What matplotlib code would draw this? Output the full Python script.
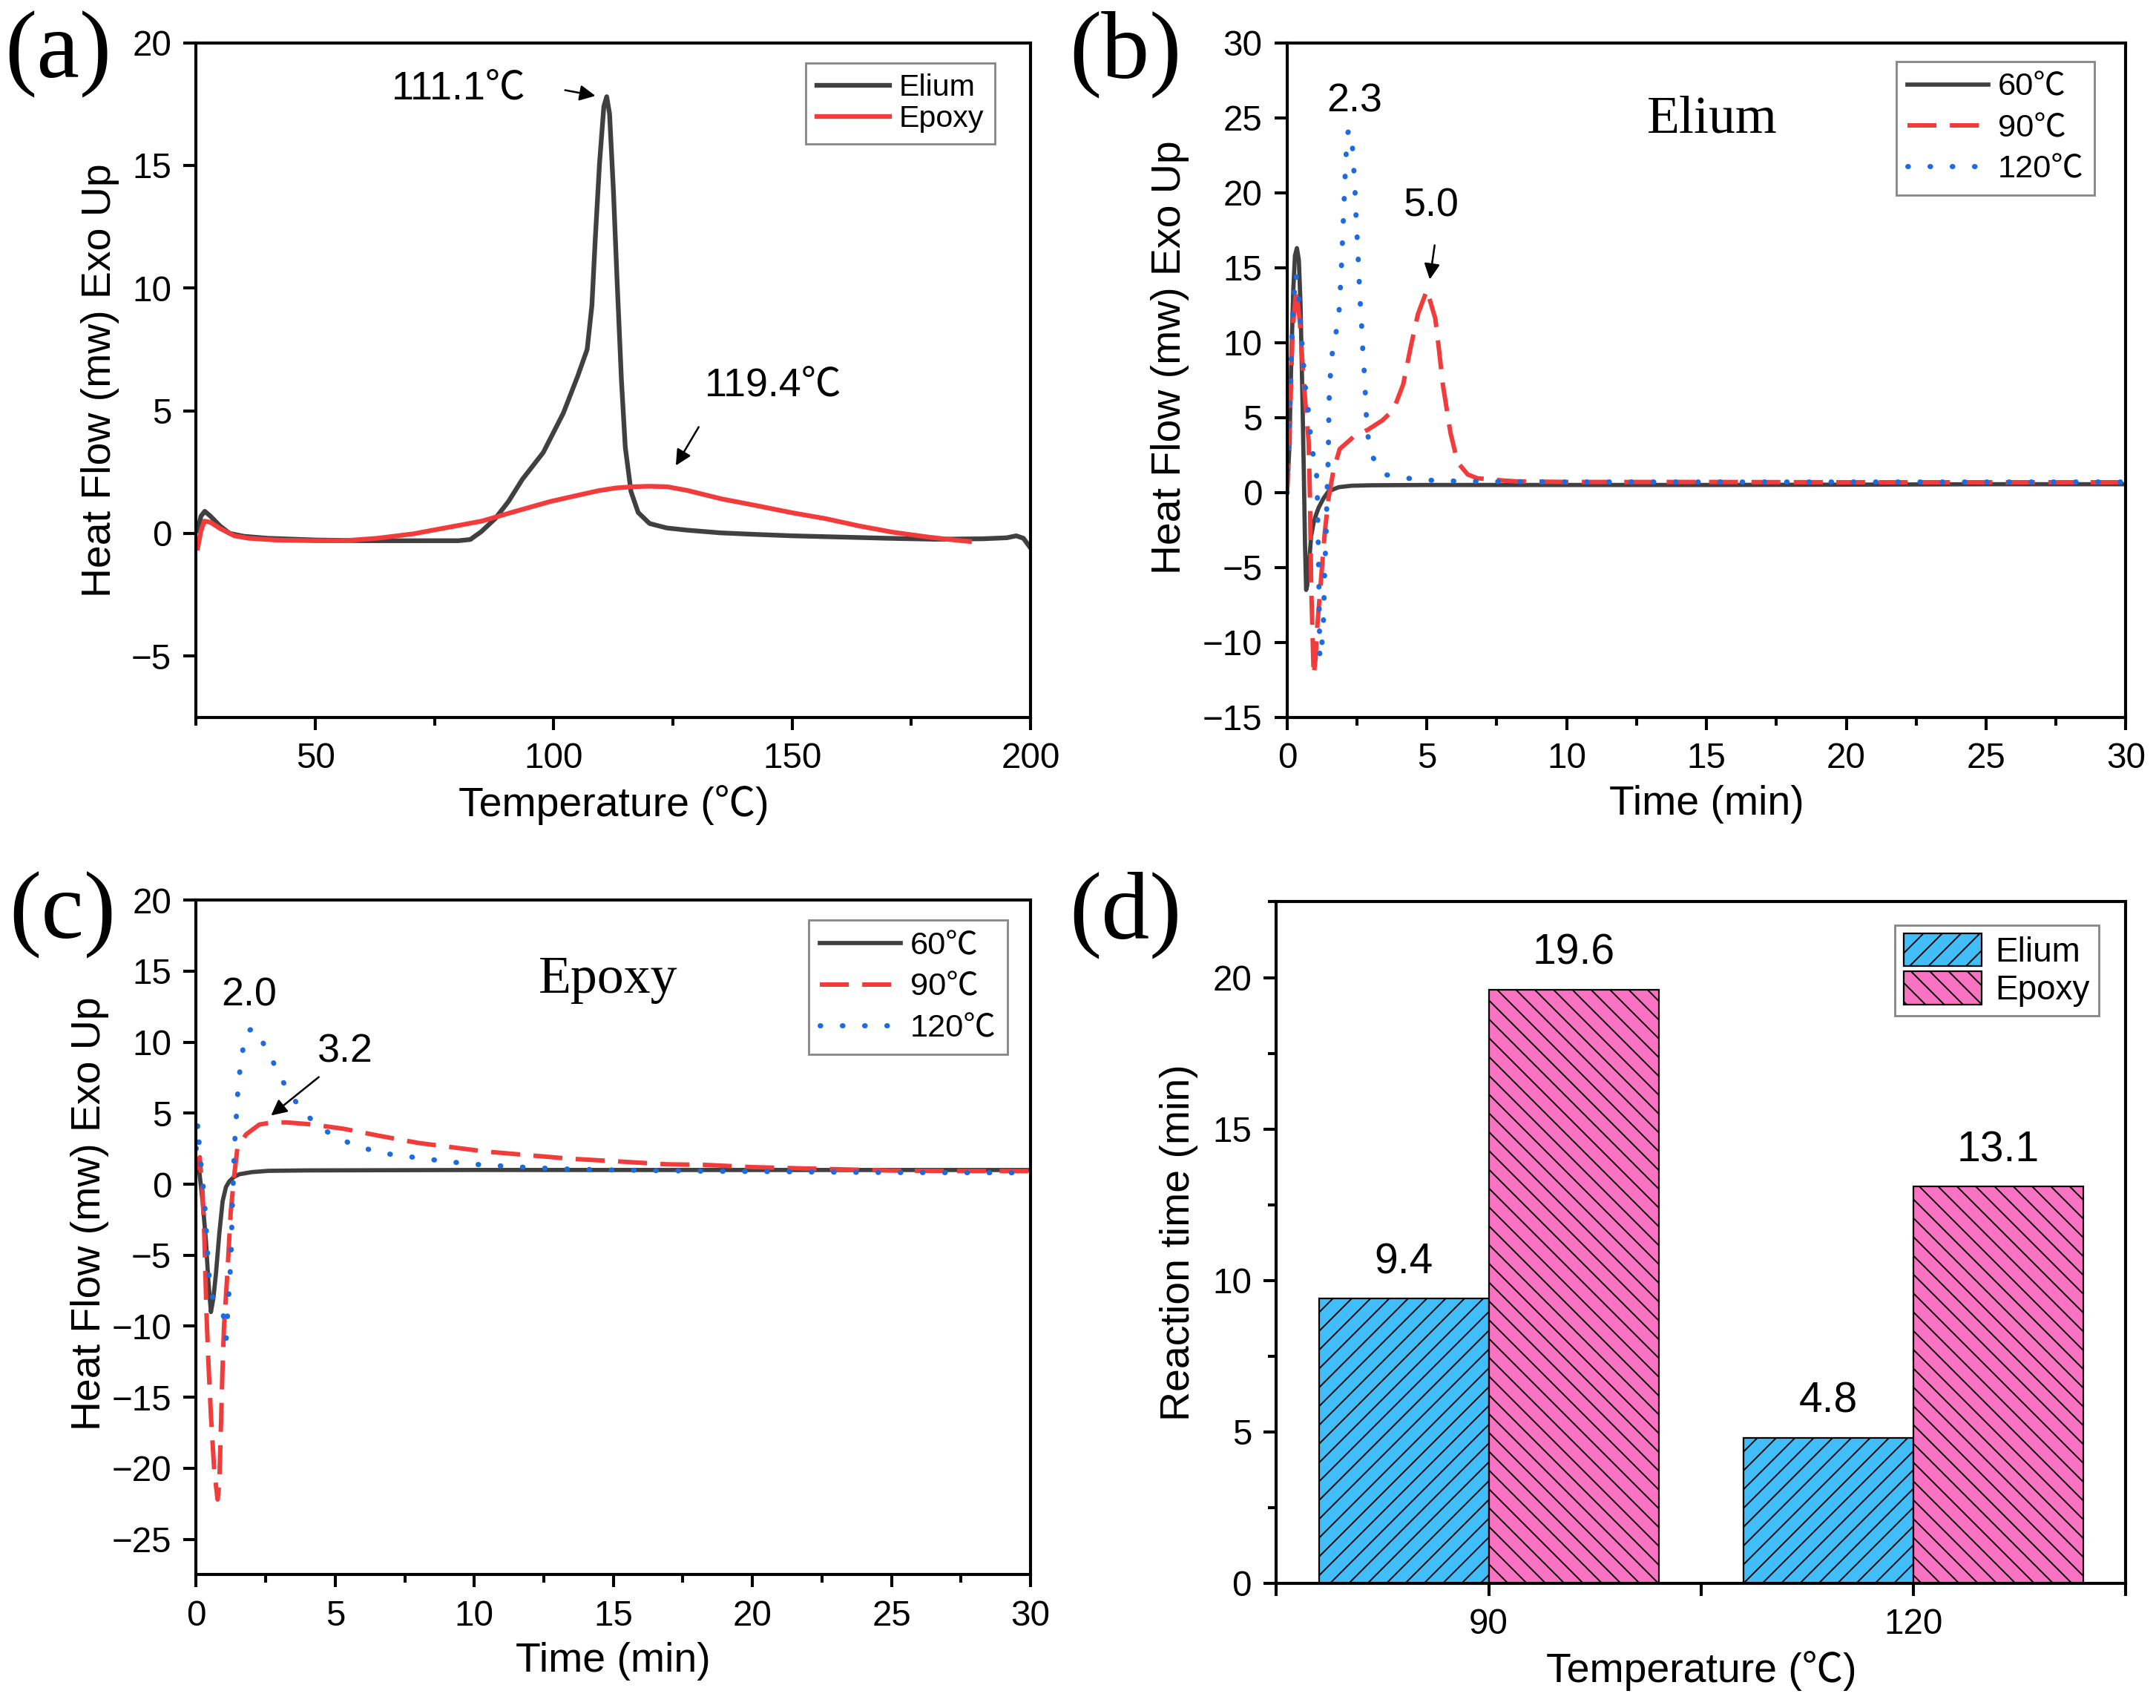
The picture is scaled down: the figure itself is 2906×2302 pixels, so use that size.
import matplotlib
matplotlib.use("Agg")
import matplotlib.pyplot as plt
from matplotlib.ticker import MultipleLocator, FixedLocator
import numpy as np

plt.rcParams['font.family'] = ['Liberation Sans', 'Noto Sans CJK SC', 'DejaVu Sans']
plt.rcParams['hatch.linewidth'] = 0.6
plt.rcParams['axes.unicode_minus'] = True

SERIF = ['Liberation Serif', 'DejaVu Serif']

# ---------------- data ----------------
# (a) non-isothermal DSC
temp_elium = [25.3, 26.0, 26.8, 28.0, 30.0, 32.0, 35.0, 40.0, 50.0, 60.0, 70.0, 80.0, 82.5, 84.8,
              87.7, 90.5, 93.4, 97.8, 102.0, 105.0, 107.0, 108.0, 108.7, 109.6, 110.5, 111.1,
              111.7, 112.5, 113.3, 114.2, 115.0, 116.2, 117.7, 120.1, 123.7, 128.0, 135.0, 142.0,
              150.0, 160.0, 170.0, 180.0, 190.0, 195.0, 197.0, 198.5, 200.0]
hf_elium = [0.1, 0.7, 0.9, 0.7, 0.3, 0.0, -0.12, -0.2, -0.27, -0.3, -0.3, -0.3, -0.25, 0.07,
            0.6, 1.3, 2.2, 3.3, 4.9, 6.4, 7.5, 9.3, 12.0, 15.1, 17.4, 17.8,
            17.1, 14.0, 10.2, 6.2, 3.5, 1.7, 0.85, 0.4, 0.22, 0.13, 0.02, -0.04,
            -0.1, -0.15, -0.2, -0.24, -0.22, -0.18, -0.1, -0.2, -0.6]
temp_epoxy = [25.3, 26.0, 26.7, 28.0, 30.0, 33.0, 36.0, 41.6, 50, 56, 63, 70.5, 78, 84.9, 92,
              99.3, 105, 109.4, 113, 116.6, 120, 123.8, 128, 135.3, 142, 149.7, 157, 164.1,
              171, 178.5, 183, 187.2]
hf_epoxy = [-0.6, 0.1, 0.5, 0.45, 0.2, -0.1, -0.2, -0.27, -0.3, -0.3, -0.2, -0.02, 0.25, 0.5, 0.9,
            1.3, 1.55, 1.74, 1.85, 1.9, 1.92, 1.9, 1.75, 1.4, 1.15, 0.85, 0.6, 0.3,
            0.05, -0.15, -0.25, -0.33]

# (b) Elium isothermal
tb_60 = [0, 0.08, 0.15, 0.22, 0.28, 0.35, 0.42, 0.48, 0.54, 0.6, 0.64, 0.68, 0.72, 0.78, 0.86,
         0.95, 1.05, 1.13, 1.3, 1.48, 1.84, 2.3, 3, 5, 10, 15, 20, 25, 30]
hb_60 = [0, 3, 8.9, 13.5, 15.8, 16.3, 15.5, 12.5, 7, 1, -3.5, -6.5, -6.2, -4.8, -2.9,
         -2.0, -1.4, -1.0, -0.4, 0.08, 0.35, 0.45, 0.48, 0.5, 0.5, 0.5, 0.52, 0.55, 0.55]
tb_90 = [0, 0.1, 0.2, 0.33, 0.45, 0.6, 0.77, 0.82, 0.86, 0.9, 0.95, 1.02, 1.08, 1.22, 1.35,
         1.48, 1.66, 1.88, 2.37, 2.9, 3.4, 3.8, 4.15, 4.42, 4.68, 5.0, 5.3, 5.44, 5.57, 5.84,
         6.1, 6.46, 6.8, 7.7, 8.2, 10, 15, 20, 25, 30]
hb_90 = [0, 5, 11, 13.5, 11.5, 7.2, 3.4, -0.7, -6.1, -8.9, -12.2, -11, -8.9, -5.6, -2.6,
         -0.4, 1.5, 2.9, 3.7, 4.2, 4.8, 5.5, 7.2, 9.7, 11.9, 13.5, 11.6, 9.4, 7.2, 4.0,
         2.0, 1.2, 0.95, 0.8, 0.74, 0.7, 0.7, 0.68, 0.68, 0.68]
tb_120 = [0, 0.1, 0.2, 0.31, 0.4, 0.5, 0.64, 0.77, 0.85, 0.95, 1.04, 1.08, 1.13, 1.17, 1.22,
          1.29, 1.35, 1.39, 1.44, 1.47, 1.5, 1.55, 1.62, 1.73, 1.84, 1.93, 2.02, 2.1, 2.17,
          2.24, 2.31, 2.37, 2.42, 2.46, 2.51, 2.56, 2.6, 2.66, 2.71, 2.77, 2.86, 3.08, 3.48,
          4.24, 5.04, 6, 8, 10, 15, 20, 25, 30]
hb_120 = [0, 6, 12, 14.6, 13.5, 10.8, 7.2, 5.3, 3.4, 2.3, 1.8, -0.1, -5.3, -11.1, -10.5,
          -9.2, -4.8, -3.1, 0.7, 2.3, 6.1, 7.9, 9.4, 10.5, 11.5, 14.5, 18.6, 22.3, 24.0,
          24.2, 23.8, 22, 20.5, 18.6, 16.8, 14.9, 13.1, 11.3, 9.4, 7.7, 4.0, 2.3, 1.2,
          0.96, 0.82, 0.76, 0.72, 0.7, 0.7, 0.7, 0.7, 0.7]

# (c) Epoxy isothermal
tc_60 = [0, 0.1, 0.23, 0.35, 0.44, 0.53, 0.62, 0.71, 0.83, 0.95, 1.07, 1.19, 1.35, 1.55, 2,
         2.6, 4, 6, 10, 15, 20, 25, 30]
hc_60 = [1.5, 1.1, -1.2, -4.0, -6.9, -9.0, -8.0, -6.3, -3.5, -1.2, -0.2, 0.2, 0.5, 0.7, 0.85,
         0.94, 0.97, 0.98, 1.0, 1.0, 1.0, 1.0, 1.0]
tc_90 = [0, 0.05, 0.13, 0.23, 0.29, 0.37, 0.44, 0.53, 0.65, 0.77, 0.83, 0.88, 0.94, 1.0, 1.12,
         1.24, 1.36, 1.48, 1.79, 2.27, 2.75, 3.24, 4.2, 5.3, 6.6, 8.0, 9.2, 10.4, 11.6, 13.4,
         15.2, 16.9, 18.3, 20, 22, 25, 27, 30]
hc_90 = [1.0, 1.6, 1.9, -0.6, -3.5, -9.1, -12.6, -16.3, -20.2, -22.2, -21.1, -17.7, -13.4, -10,
         -6.3, -2, 0.5, 2.5, 3.5, 4.2, 4.35, 4.35, 4.2, 3.9, 3.4, 2.9, 2.6, 2.3, 2.1, 1.8,
         1.6, 1.4, 1.36, 1.2, 1.1, 0.96, 0.93, 0.92]
tc_120 = [0, 0.06, 0.12, 0.2, 0.3, 0.36, 0.42, 0.48, 0.56, 0.7, 0.85, 0.97, 1.04, 1.08, 1.13,
          1.19, 1.25, 1.3, 1.34, 1.37, 1.43, 1.49, 1.58, 1.72, 1.88, 2.07, 2.3, 2.65, 3.0, 3.5,
          4.0, 4.6, 5.5, 6.2, 7.0, 8.0, 9.0, 10, 11.5, 13, 15, 18, 21, 25, 30]
hc_120 = [2.5, 4.3, 2.4, 0.9, -1.2, -3.2, -5.2, -6.9, -7.8, -8.5, -8.9, -9.2, -10.0, -10.85,
          -9.1, -7.2, -5.2, -1.5, 0.5, 2.5, 4.35, 6.3, 8.2, 10.0, 10.8, 11.0, 10.3, 9.1, 7.6,
          6.0, 4.8, 3.8, 2.9, 2.45, 2.1, 1.85, 1.6, 1.4, 1.22, 1.08, 1.0, 0.92, 0.88, 0.82, 0.8]

# (d) reaction time
temps_d = ['90', '120']
rt_elium = [9.4, 4.8]
rt_epoxy = [19.6, 13.1]

# ---------------- styles ----------------
C_GRAY = '#404040'
C_RED = '#F23B3B'
C_BLUE = '#1C6BE0'
C_BAR_EL = '#41BEFA'
C_BAR_EP = '#FA73C3'

TICK_FS = 15
LABEL_FS = 17.5
ANN_FS = 17

DASH = (0, (6.5, 3.0))
DOT = (0, (0.1, 4.2))


def style_ax(ax):
    for s in ax.spines.values():
        s.set_linewidth(1.3)
    ax.tick_params(which='both', direction='out', width=1.3, labelsize=TICK_FS, pad=5,
                   top=False, right=False)
    ax.tick_params(which='major', length=5.5)
    ax.tick_params(which='minor', length=3.5)


def legend(ax, anchor, fs, **kw):
    opts = dict(loc='upper right', bbox_to_anchor=anchor, fontsize=fs, frameon=True,
                fancybox=False, framealpha=1, edgecolor='#888888', borderaxespad=0,
                borderpad=0.35, handletextpad=0.3)
    opts.update(kw)
    lg = ax.legend(**opts)
    lg.get_frame().set_linewidth(0.9)
    return lg


W, H = 2906, 2302
DPI = 228
fig = plt.figure(figsize=(W / DPI, H / DPI), dpi=DPI)

ax_a = fig.add_axes([0.091, 0.580, 0.387, 0.395])
ax_b = fig.add_axes([0.597, 0.580, 0.389, 0.395])
ax_c = fig.add_axes([0.091, 0.078, 0.387, 0.395])
ax_d = fig.add_axes([0.592, 0.073, 0.394, 0.399])

# ---- (a)
ax = ax_a
ax.plot(temp_elium, hf_elium, color=C_GRAY, lw=2.0, label='Elium')
ax.plot(temp_epoxy, hf_epoxy, color=C_RED, lw=2.0, label='Epoxy')
ax.set_xlim(25, 200)
ax.set_ylim(-7.5, 20)
ax.xaxis.set_major_locator(MultipleLocator(50))
ax.xaxis.set_minor_locator(MultipleLocator(25))
ax.yaxis.set_major_locator(MultipleLocator(5))
style_ax(ax)
ax.set_xlabel('Temperature (℃)', fontsize=LABEL_FS, labelpad=4)
ax.set_ylabel('Heat Flow (mw) Exo Up', fontsize=LABEL_FS, labelpad=5)
legend(ax, (0.957, 0.970), 13.0, handlelength=2.4, labelspacing=0.1)
ax.annotate('111.1℃', xy=(109.7, 17.8), xytext=(80, 18.1), fontsize=ANN_FS,
            ha='center', va='center')
ax.annotate('', xy=(109.7, 17.8), xytext=(101.4, 18.1),
            arrowprops=dict(arrowstyle='-|>', color='black', lw=0.8, mutation_scale=14))
ax.annotate('119.4℃', xy=(125.1, 2.6), xytext=(146, 6.0), fontsize=ANN_FS,
            ha='center', va='center')
ax.annotate('', xy=(125.1, 2.6), xytext=(130.9, 4.5),
            arrowprops=dict(arrowstyle='-|>', color='black', lw=0.8, mutation_scale=14))

# ---- (b)
ax = ax_b
ax.plot(tb_60, hb_60, color=C_GRAY, lw=1.8, label='60℃')
ax.plot(tb_90, hb_90, color=C_RED, lw=1.9, ls=DASH, label='90℃')
ax.plot(tb_120, hb_120, color=C_BLUE, lw=2.2, ls=DOT, dash_capstyle='round', label='120℃')
ax.set_xlim(0, 30)
ax.set_ylim(-15, 30)
ax.xaxis.set_major_locator(MultipleLocator(5))
ax.xaxis.set_minor_locator(MultipleLocator(2.5))
ax.yaxis.set_major_locator(MultipleLocator(5))
style_ax(ax)
ax.set_xlabel('Time (min)', fontsize=LABEL_FS, labelpad=4)
ax.set_ylabel('Heat Flow (mw) Exo Up', fontsize=LABEL_FS)
ax.yaxis.set_label_coords(-0.117, 0.534)
legend(ax, (0.963, 0.9725), 13.7, handlelength=2.5, labelspacing=0.35)
ax.text(2.42, 26.1, '2.3', fontsize=ANN_FS, ha='center', va='center')
ax.annotate('5.0', xy=(5.08, 13.9), xytext=(5.17, 19.1), fontsize=ANN_FS,
            ha='center', va='center')
ax.annotate('', xy=(5.08, 13.9), xytext=(5.3, 16.8),
            arrowprops=dict(arrowstyle='-|>', color='black', lw=0.8, mutation_scale=14))
ax.text(15.2, 24.9, 'Elium', fontsize=22.7, family=SERIF, ha='center', va='center')

# ---- (c)
ax = ax_c
ax.plot(tc_60, hc_60, color=C_GRAY, lw=1.8, label='60℃')
ax.plot(tc_90, hc_90, color=C_RED, lw=1.9, ls=DASH, label='90℃')
ax.plot(tc_120, hc_120, color=C_BLUE, lw=2.2, ls=DOT, dash_capstyle='round', label='120℃')
ax.set_xlim(0, 30)
ax.set_ylim(-27.5, 20)
ax.xaxis.set_major_locator(MultipleLocator(5))
ax.xaxis.set_minor_locator(MultipleLocator(2.5))
ax.yaxis.set_major_locator(MultipleLocator(5))
style_ax(ax)
ax.set_xlabel('Time (min)', fontsize=LABEL_FS, labelpad=4)
ax.set_ylabel('Heat Flow (mw) Exo Up', fontsize=LABEL_FS)
ax.yaxis.set_label_coords(-0.104, 0.535)
legend(ax, (0.972, 0.970), 13.7, handlelength=2.5, labelspacing=0.35)
ax.text(1.9, 13.3, '2.0', fontsize=ANN_FS, ha='center', va='center')
ax.annotate('3.2', xy=(2.56, 4.63), xytext=(5.35, 9.3), fontsize=ANN_FS,
            ha='center', va='center')
ax.annotate('', xy=(2.56, 4.63), xytext=(4.54, 7.75),
            arrowprops=dict(arrowstyle='-|>', color='black', lw=0.8, mutation_scale=14))
ax.text(14.8, 14.4, 'Epoxy', fontsize=22.7, family=SERIF, ha='center', va='center')

# ---- (d)
ax = ax_d
x = np.arange(len(temps_d))
bw = 0.4
b1 = ax.bar(x - bw / 2, rt_elium, bw, color=C_BAR_EL, edgecolor='black', linewidth=0.7,
            hatch='///', label='Elium')
b2 = ax.bar(x + bw / 2, rt_epoxy, bw, color=C_BAR_EP, edgecolor='black', linewidth=0.7,
            hatch='\\\\\\', label='Epoxy')
for bars, vals in ((b1, rt_elium), (b2, rt_epoxy)):
    for rect, v in zip(bars, vals):
        ax.annotate(f'{v:.1f}', xy=(rect.get_x() + rect.get_width() / 2, v),
                    xytext=(0, 7), textcoords='offset points', ha='center', va='bottom',
                    fontsize=18)
ax.set_xlim(-0.5, 1.5)
ax.set_ylim(0, 22.5)
ax.set_xticks(x)
ax.set_xticklabels(temps_d)
ax.xaxis.set_minor_locator(FixedLocator([-0.5, 0.5, 1.5]))
ax.yaxis.set_major_locator(MultipleLocator(5))
ax.yaxis.set_minor_locator(MultipleLocator(2.5))
style_ax(ax)
ax.tick_params(axis='x', which='minor', length=5.5)
ax.set_xlabel('Temperature (℃)', fontsize=LABEL_FS, labelpad=4)
ax.set_ylabel('Reaction time (min)', fontsize=LABEL_FS, labelpad=6)
legend(ax, (0.968, 0.966), 14.5, handlelength=2.3, handleheight=1.1, labelspacing=0.08,
       handletextpad=0.4, borderpad=0.25)

# panel letters
for txt, xx, yy in (('(a)', 0.027, 0.968), ('(b)', 0.522, 0.968),
                    ('(c)', 0.029, 0.464), ('(d)', 0.522, 0.464)):
    fig.text(xx, yy, txt, fontsize=41, family=SERIF, ha='center', va='center')

fig.savefig('out.png', dpi=DPI)
